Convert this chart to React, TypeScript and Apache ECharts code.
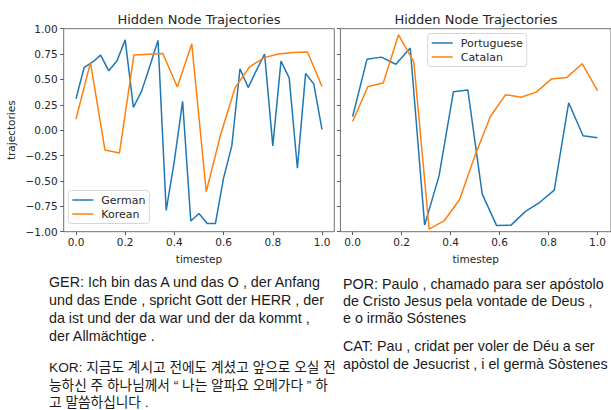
import React, { useEffect, useRef } from "react";
import * as echarts from "echarts";

const germanValues = [0.31, 0.62, 0.67, 0.74, 0.585, 0.685, 0.89, 0.225, 0.385, 0.63, 0.885, -0.79, -0.3, 0.285, -0.895, -0.82, -0.92, -0.92, -0.47, -0.155, 0.605, 0.42, 0.59, 0.75, -0.155, 0.68, 0.515, -0.375, 0.56, 0.455, 0.005];
const koreanValues = [0.11, 0.665, -0.195, -0.225, 0.74, 0.748, 0.755, 0.425, 0.85, -0.605, -0.04, 0.42, 0.625, 0.715, 0.75, 0.765, 0.77, 0.43];
const portugueseValues = [0.135, 0.7, 0.72, 0.65, 0.81, -0.935, -0.45, 0.38, 0.395, -0.63, -0.94, -0.935, -0.8, -0.71, -0.59, 0.27, -0.055, -0.075];
const catalanValues = [0.085, 0.43, 0.465, 0.94, 0.67, -0.975, -0.89, -0.68, -0.25, 0.135, 0.35, 0.325, 0.375, 0.505, 0.52, 0.655, 0.39];

const xTicks = [0, 0.2, 0.4, 0.6, 0.8, 1.0];
const titleText = "Hidden Node Trajectories";
const xName = "timestep";
const yName = "trajectories";

const gerText = "GER: Ich bin das A und das O , der Anfang\nund das Ende , spricht Gott der HERR , der\nda ist und der da war und der da kommt ,\nder Allmächtige .";
const korLines = ["KOR: 지금도 계시고 전에도 계셨고 앞으로 오실 전", "능하신 주 하나님께서 “ 나는 알파요 오메가다 ” 하", "고 말씀하십니다 ."];
const porText = "POR: Paulo , chamado para ser apóstolo\nde Cristo Jesus pela vontade de Deus ,\ne o irmão Sóstenes";
const catText = "CAT: Pau , cridat per voler de Déu a ser\napòstol de Jesucrist , i el germà Sòstenes";

const BLUE = "#1f77b4";
const ORANGE = "#ff7f0e";
const TXT = "#262626";
const MPL = "DejaVu Sans";
const BODY = "#1a1a1a";

const toPts = (vals: number[]) => vals.map((v, i) => [i / (vals.length - 1), v]);

function xAxisCfg(grid: number, max: number) {
  return {
    type: "value",
    gridIndex: grid,
    min: -0.05,
    max,
    axisLine: { show: false, onZero: false },
    splitLine: { show: false },
    axisTick: { show: true, customValues: xTicks, length: 3.5, lineStyle: { color: "#333", width: 0.8 } },
    axisLabel: { customValues: xTicks, formatter: (v: number) => v.toFixed(1), fontFamily: MPL, fontSize: 10.5, color: TXT, margin: 4.5 },
    name: xName,
    nameLocation: "middle",
    nameGap: 22,
    nameTextStyle: { fontFamily: MPL, fontSize: 10.5, color: TXT },
  };
}

function yAxisCfg(grid: number, labels: boolean) {
  return {
    type: "value",
    gridIndex: grid,
    min: -1,
    max: 1,
    interval: 0.25,
    axisLine: { show: false, onZero: false },
    splitLine: { show: false },
    axisTick: { show: true, length: 3.5, lineStyle: { color: "#333", width: 0.8 } },
    axisLabel: {
      show: labels,
      formatter: (v: number) => (v < 0 ? "\u2212" : "") + Math.abs(v).toFixed(2),
      fontFamily: MPL,
      fontSize: 10.5,
      color: TXT,
      margin: 6,
    },
    name: labels ? yName : "",
    nameLocation: "middle",
    nameGap: 47,
    nameTextStyle: { fontFamily: MPL, fontSize: 10.5, color: TXT },
  };
}

function legendCfg(names: string[], left: number, top: number) {
  return {
    data: names,
    left,
    top,
    orient: "vertical",
    icon: "rect",
    itemWidth: 21,
    itemHeight: 1.5,
    itemGap: 3,
    padding: [4, 4, 4, 4],
    backgroundColor: "rgba(255,255,255,0.8)",
    borderColor: "#cccccc",
    borderWidth: 0.8,
    borderRadius: 3,
    selectedMode: false,
    textStyle: { fontFamily: MPL, fontSize: 11, color: TXT, padding: [0, 0, 0, 3] },
  };
}

function lineSeries(name: string, vals: number[], color: string, grid: number) {
  return {
    type: "line",
    name,
    xAxisIndex: grid,
    yAxisIndex: grid,
    data: toPts(vals),
    showSymbol: false,
    symbol: "none",
    color,
    lineStyle: { color, width: 1.5 },
  };
}

function korText(text: string, y: number) {
  return {
    type: "text",
    x: 49,
    y,
    style: {
      text,
      fontFamily: '"Liberation Sans", "Noto Sans CJK KR"',
      fontSize: 13.7,
      fill: BODY,
      align: "left",
      verticalAlign: "middle",
    },
  };
}

export default function App() {
  const ref = useRef<HTMLDivElement>(null);
  useEffect(() => {
    if (!ref.current) return;
    const chart = echarts.init(ref.current, null, { renderer: "svg" });
    chart.setOption({
      animation: false,
      backgroundColor: "#ffffff",
      grid: [
        { left: 63.7, top: 28.7, width: 270.6, height: 203, show: true, borderColor: "#4d4d4d", borderWidth: 0.8, backgroundColor: "transparent" },
        { left: 340.4, top: 28.7, width: 272.5, height: 203, show: true, borderColor: "#4d4d4d", borderWidth: 0.8, backgroundColor: "transparent" },
      ],
      xAxis: [xAxisCfg(0, 1.05), xAxisCfg(1, 1.0553)],
      yAxis: [yAxisCfg(0, true), yAxisCfg(1, false)],
      legend: [legendCfg(["German", "Korean"], 68.3, 190.5), legendCfg(["Portuguese", "Catalan"], 427.7, 33.5)],
      series: [
        lineSeries("German", germanValues, BLUE, 0),
        lineSeries("Korean", koreanValues, ORANGE, 0),
        lineSeries("Portuguese", portugueseValues, BLUE, 1),
        lineSeries("Catalan", catalanValues, ORANGE, 1),
      ],
      graphic: [
        { type: "text", x: 199, y: 19.5, style: { text: titleText, fontFamily: MPL, fontSize: 13, fill: TXT, align: "center", verticalAlign: "middle" } },
        { type: "text", x: 476, y: 19.5, style: { text: titleText, fontFamily: MPL, fontSize: 13, fill: TXT, align: "center", verticalAlign: "middle" } },
        { type: "text", x: 49, y: 273, style: { text: gerText, fontFamily: "Liberation Sans", fontSize: 14.3, lineHeight: 18, fill: BODY, align: "left", verticalAlign: "top" } },
        korText(korLines[0], 367.5),
        korText(korLines[1], 385.3),
        korText(korLines[2], 402.5),
        { type: "text", x: 343, y: 275, style: { text: porText, fontFamily: "Liberation Sans", fontSize: 14.3, lineHeight: 17, fill: BODY, align: "left", verticalAlign: "top" } },
        { type: "text", x: 343, y: 337, style: { text: catText, fontFamily: "Liberation Sans", fontSize: 14.3, lineHeight: 18, fill: BODY, align: "left", verticalAlign: "top" } },
      ],
    });
    return () => chart.dispose();
  }, []);
  return <div ref={ref} style={{ position: "fixed", left: 0, top: 0, width: 611, height: 410 }} />;
}
